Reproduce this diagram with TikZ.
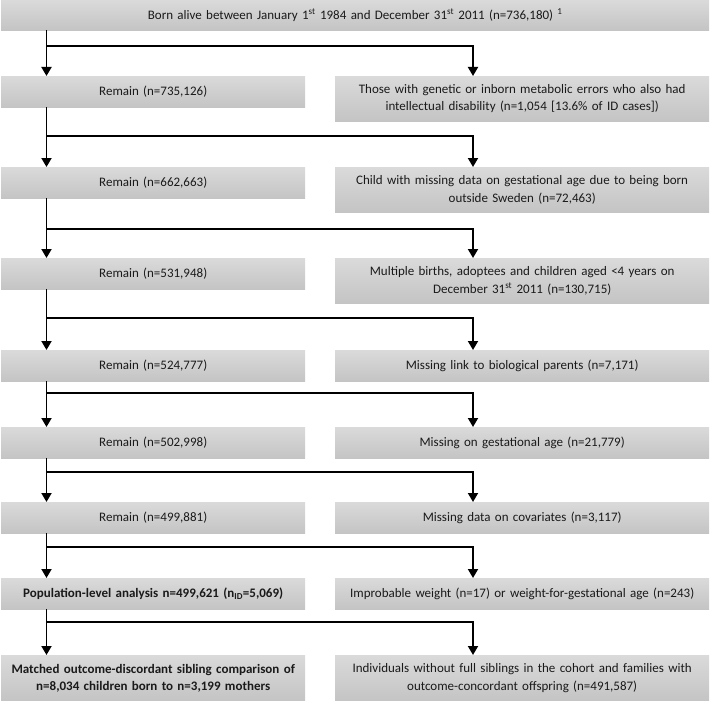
\documentclass[tikz,border=0pt]{standalone}
\usepackage{fontspec}
\setmainfont{Carlito}
\usetikzlibrary{arrows.meta}
\definecolor{boxtop}{HTML}{DADADA}
\definecolor{boxbot}{HTML}{C4C4C4}
\definecolor{txt}{HTML}{1A1A1A}
\begin{document}
\begin{tikzpicture}[x=1pt,y=-1pt,
  box/.style={anchor=north west, inner sep=0pt, top color=boxtop, bottom color=boxbot,
    draw=none, align=center, text=txt, font=\fontsize{13}{17.5}\selectfont},
  lbox/.style={box, text width=304pt, minimum height=31pt},
  rbox/.style={box, text width=374pt, minimum height=31pt},
  tall/.style={minimum height=45pt},
  link/.style={line width=1.8pt, draw=black, line join=miter},
  arr/.style={link, -{Triangle[width=10pt,length=9pt]}}
]
\useasboundingbox (0,0) rectangle (710,701);

\node[box, text width=708pt, minimum height=30pt] (top) at (1,0)
  {Born alive between January 1\textsuperscript{st} 1984 and December 31\textsuperscript{st} 2011 (n=736,180) \textsuperscript{1}};

\node[lbox] (l1) at (1,76) {Remain (n=735,126)};
\node[rbox,tall] (r1) at (335,76) {Those with genetic or inborn metabolic errors who also had\\intellectual disability (n=1,054 [13.6\% of ID cases])};
\node[lbox] (l2) at (1,167) {Remain (n=662,663)};
\node[rbox,tall] (r2) at (335,167) {Child with missing data on gestational age due to being born\\outside Sweden (n=72,463)};
\node[lbox] (l3) at (1,258) {Remain (n=531,948)};
\node[rbox,tall] (r3) at (335,258) {Multiple births, adoptees and children aged <4 years on\\December 31\textsuperscript{st} 2011 (n=130,715)};
\node[lbox] (l4) at (1,350) {Remain (n=524,777)};
\node[rbox] (r4) at (335,350) {Missing link to biological parents (n=7,171)};
\node[lbox] (l5) at (1,427) {Remain (n=502,998)};
\node[rbox] (r5) at (335,427) {Missing on gestational age (n=21,779)};
\node[lbox] (l6) at (1,502) {Remain (n=499,881)};
\node[rbox] (r6) at (335,502) {Missing data on covariates (n=3,117)};
\node[lbox] (l7) at (1,578) {\textbf{Population-level analysis n=499,621 (n\textsubscript{ID}=5,069)}};
\node[rbox] (r7) at (335,578) {Improbable weight (n=17) or weight-for-gestational age (n=243)};
\node[lbox,minimum height=46pt] (l8) at (1,655) {\textbf{Matched outcome-discordant sibling comparison of}\\\textbf{n=8,034 children born to n=3,199 mothers}};
\node[rbox,minimum height=46pt] (r8) at (335,655) {Individuals without full siblings in the cohort and families with\\outcome-concordant offspring (n=491,587)};

\coordinate (sx) at (46.5,0);
\coordinate (h1) at (473,46);
\coordinate (h2) at (473,136);
\coordinate (h3) at (473,229);
\coordinate (h4) at (473,318);
\coordinate (h5) at (473,393);
\coordinate (h6) at (473,472);
\coordinate (h7) at (473,547);
\coordinate (h8) at (473,622);

\draw[arr] (top.south -| sx) -- (l1.north -| sx);
\draw[arr] (sx |- h1) -- (h1) -- (r1.north -| h1);
\draw[arr] (l1.south -| sx) -- (l2.north -| sx);
\draw[arr] (sx |- h2) -- (h2) -- (r2.north -| h2);
\draw[arr] (l2.south -| sx) -- (l3.north -| sx);
\draw[arr] (sx |- h3) -- (h3) -- (r3.north -| h3);
\draw[arr] (l3.south -| sx) -- (l4.north -| sx);
\draw[arr] (sx |- h4) -- (h4) -- (r4.north -| h4);
\draw[arr] (l4.south -| sx) -- (l5.north -| sx);
\draw[arr] (sx |- h5) -- (h5) -- (r5.north -| h5);
\draw[arr] (l5.south -| sx) -- (l6.north -| sx);
\draw[arr] (sx |- h6) -- (h6) -- (r6.north -| h6);
\draw[arr] (l6.south -| sx) -- (l7.north -| sx);
\draw[arr] (sx |- h7) -- (h7) -- (r7.north -| h7);
\draw[arr] (l7.south -| sx) -- (l8.north -| sx);
\draw[arr] (sx |- h8) -- (h8) -- (r8.north -| h8);
\end{tikzpicture}
\end{document}
